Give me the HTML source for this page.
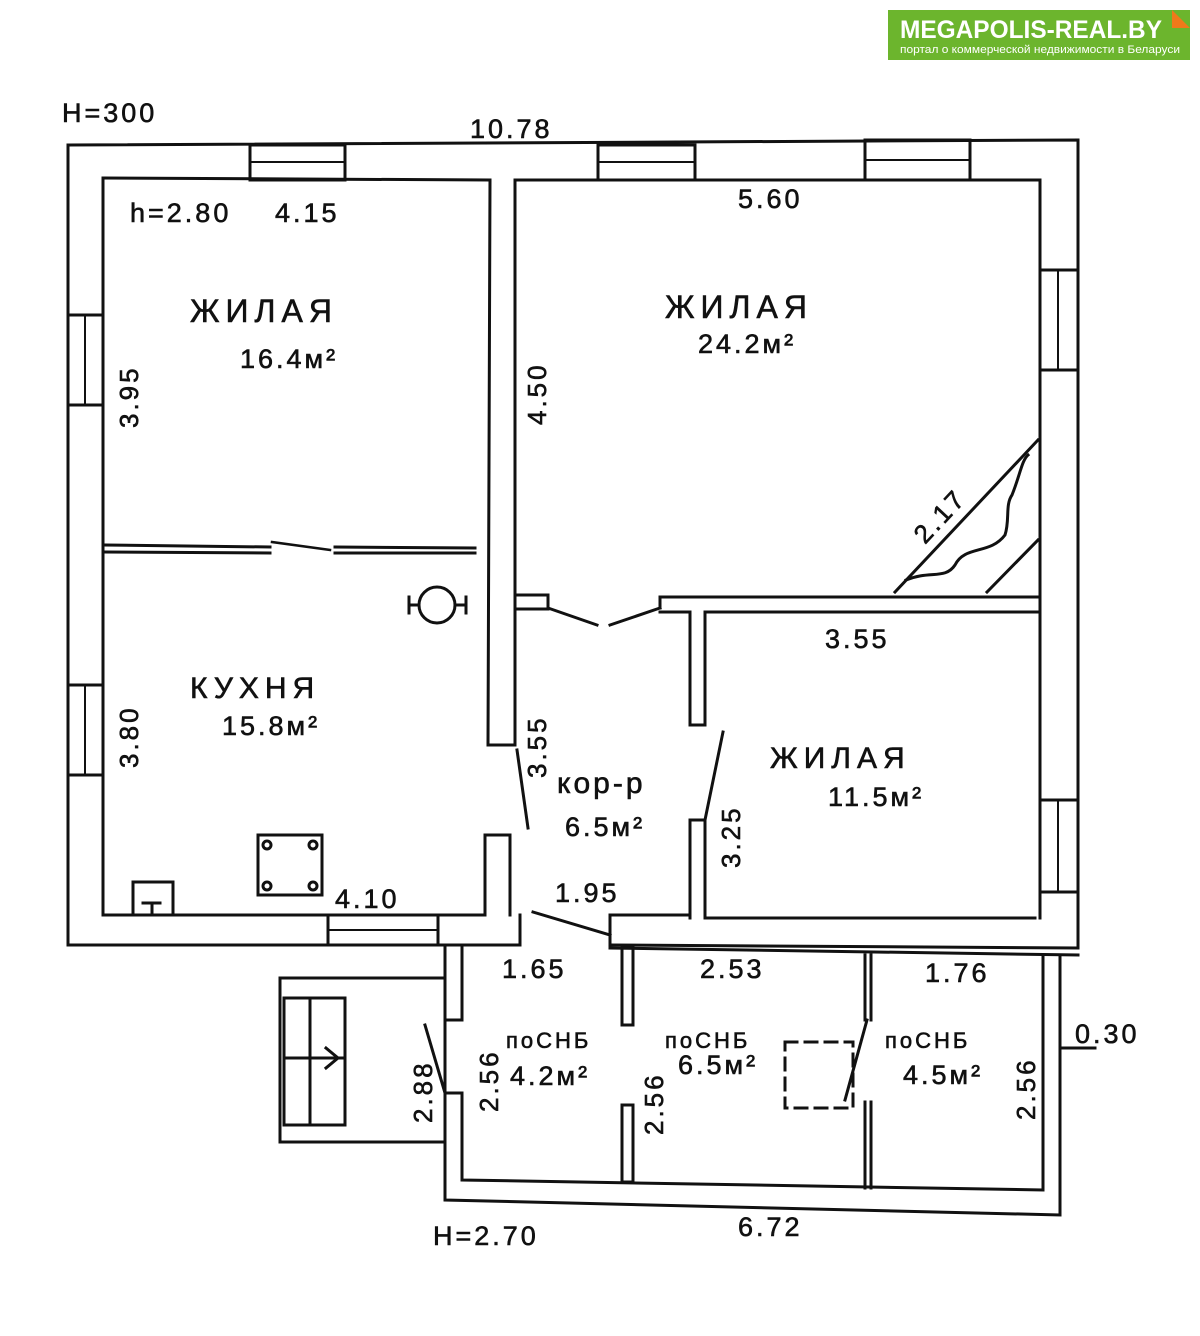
<!DOCTYPE html>
<html><head><meta charset="utf-8"><style>
html,body{margin:0;padding:0;background:#fff}
svg{display:block}
text{font-family:"Liberation Sans","DejaVu Sans",sans-serif;fill:#111;letter-spacing:3px}
.p text{stroke:#111;stroke-width:0.6}
</style></head><body>
<svg width="1200" height="1336" viewBox="0 0 1200 1336" xmlns="http://www.w3.org/2000/svg">
<rect width="1200" height="1336" fill="#fff"/>
<!-- logo -->
<rect x="888" y="10" width="302" height="50" fill="#6cb52d"/>
<polygon points="1172,10 1190,28 1172,28" fill="#f07a1a"/>
<text x="900" y="38" font-size="25" font-weight="bold" textLength="262" lengthAdjust="spacingAndGlyphs" style="fill:#fff;letter-spacing:0">MEGAPOLIS-REAL.BY</text>
<text x="900" y="53" font-size="11" textLength="280" lengthAdjust="spacingAndGlyphs" style="fill:#fff;letter-spacing:0">портал о коммерческой недвижимости в Беларуси</text>

<g stroke="#111" stroke-width="3" fill="none" stroke-linecap="square">
<polyline points="68,145 1078,140 1078,948 610,945"/>
<polyline points="68,145 68,945 520,945"/>
<polyline points="103,178 490,180 488,745 515,745 515,180 1040,180 1040,597"/>
<line x1="103" y1="178" x2="103" y2="915"/>
<polyline points="103,915 485,915 485,835 510,835 510,915"/>
<line x1="438" y1="915" x2="438" y2="945"/>
<line x1="520" y1="915" x2="520" y2="945"/>
<rect x="250" y="145" width="95" height="35"/><line x1="250" y1="162" x2="345" y2="162" stroke-width="2"/>
<rect x="598" y="145" width="97" height="35"/><line x1="598" y1="162" x2="695" y2="162" stroke-width="2"/>
<rect x="865" y="140" width="105" height="40"/><line x1="865" y1="160" x2="970" y2="160" stroke-width="2"/>
<rect x="68" y="315" width="35" height="90"/><line x1="85" y1="315" x2="85" y2="405" stroke-width="2"/>
<rect x="68" y="685" width="35" height="90"/><line x1="85" y1="685" x2="85" y2="775" stroke-width="2"/>
<rect x="1040" y="270" width="38" height="100"/><line x1="1058" y1="270" x2="1058" y2="370" stroke-width="2"/>
<rect x="1040" y="800" width="38" height="92"/><line x1="1058" y1="800" x2="1058" y2="892" stroke-width="2"/>
<rect x="328" y="915" width="110" height="30"/><line x1="328" y1="930" x2="438" y2="930" stroke-width="2"/>
<line x1="105" y1="545" x2="270" y2="547"/><line x1="105" y1="552" x2="270" y2="553"/>
<line x1="335" y1="547" x2="475" y2="548"/><line x1="335" y1="553" x2="475" y2="553"/>
<line x1="272" y1="542" x2="330" y2="550" stroke-width="2.5"/>
<rect x="515" y="595" width="33" height="14"/>
<line x1="548" y1="608" x2="597" y2="625"/><line x1="610" y1="625" x2="660" y2="608"/>
<polyline points="660,608 660,597 1040,597 1040,612 705,612 705,725 690,725 690,612 660,612"/>
<line x1="1040" y1="612" x2="1040" y2="918"/>
<polyline points="690,918 690,820 705,820 705,918 1035,918"/>
<line x1="723" y1="732" x2="705" y2="820"/>
<line x1="517" y1="750" x2="528" y2="828"/>
<line x1="533" y1="912" x2="610" y2="935"/>
<polyline points="610,945 610,915 690,915"/>
<line x1="895" y1="592" x2="1038" y2="440"/>
<line x1="987" y1="592" x2="1038" y2="540"/>
<path d="M906,580 C930,570 945,580 955,565 C965,545 990,555 1005,535 C1010,520 1005,505 1012,495 C1020,475 1022,460 1028,455"/>
<circle cx="437" cy="605" r="18"/>
<line x1="409" y1="605" x2="419" y2="605"/><line x1="409" y1="597" x2="409" y2="613"/>
<line x1="455" y1="605" x2="466" y2="605"/><line x1="466" y1="597" x2="466" y2="613"/>
<rect x="258" y="835" width="64" height="60"/>
<circle cx="267" cy="845" r="4"/><circle cx="313" cy="845" r="4"/><circle cx="267" cy="886" r="4"/><circle cx="313" cy="886" r="4"/>
<rect x="133" y="882" width="40" height="33"/>
<line x1="143" y1="903" x2="160" y2="903"/><line x1="152" y1="903" x2="152" y2="912"/>
<polyline points="445,945 445,1200 1060,1215 1060,955"/>
<line x1="610" y1="948" x2="1078" y2="955"/>
<polyline points="445,1020 462,1020 462,948"/>
<polyline points="445,1093 462,1093 462,1180 1043,1190 1043,955"/>
<line x1="425" y1="1025" x2="445" y2="1093"/>
<rect x="622" y="948" width="11" height="77"/>
<rect x="622" y="1105" width="11" height="77"/>
<line x1="865" y1="955" x2="865" y2="1020"/><line x1="871" y1="955" x2="871" y2="1020"/>
<line x1="865" y1="1102" x2="865" y2="1188"/><line x1="871" y1="1102" x2="871" y2="1188"/>
<line x1="867" y1="1020" x2="845" y2="1100"/>
<rect x="785" y="1042" width="68" height="66" stroke-dasharray="12,8"/>
<line x1="1060" y1="1048" x2="1095" y2="1048"/>
<polyline points="445,978 280,978 280,1142 445,1142"/>
<rect x="284" y="998" width="61" height="127"/>
<line x1="310" y1="998" x2="310" y2="1125"/><line x1="284" y1="1058" x2="345" y2="1058"/>
<polyline points="326,1048 338,1058 326,1068"/>
</g>

<g class="p" font-size="27">
<text x="62" y="122">H=300</text>
<text x="470" y="138">10.78</text>
<text x="130" y="222">h=2.80</text>
<text x="275" y="222">4.15</text>
<text x="738" y="208">5.60</text>
<text x="190" y="322" font-size="32" style="letter-spacing:6px">ЖИЛАЯ</text>
<text x="240" y="368">16.4м²</text>
<text x="665" y="318" font-size="32" style="letter-spacing:6px">ЖИЛАЯ</text>
<text x="698" y="353">24.2м²</text>
<text x="825" y="648">3.55</text>
<text x="190" y="698" font-size="30" style="letter-spacing:6px">КУХНЯ</text>
<text x="222" y="735">15.8м²</text>
<text x="770" y="768" font-size="30" style="letter-spacing:6px">ЖИЛАЯ</text>
<text x="828" y="806">11.5м²</text>
<text x="557" y="793" font-size="30">кор-р</text>
<text x="565" y="836">6.5м²</text>
<text x="555" y="902">1.95</text>
<text x="335" y="908">4.10</text>
<text x="502" y="978">1.65</text>
<text x="700" y="978">2.53</text>
<text x="925" y="982">1.76</text>
<text x="1075" y="1043">0.30</text>
<text x="506" y="1048" font-size="22">поСНБ</text>
<text x="510" y="1085">4.2м²</text>
<text x="665" y="1048" font-size="22">поСНБ</text>
<text x="678" y="1074">6.5м²</text>
<text x="885" y="1048" font-size="22">поСНБ</text>
<text x="903" y="1084">4.5м²</text>
<text x="433" y="1245">H=2.70</text>
<text x="738" y="1236">6.72</text>
</g>
<g class="p" font-size="26">
<text transform="translate(138,428) rotate(-90)">3.95</text>
<text transform="translate(546,425) rotate(-90)">4.50</text>
<text transform="translate(138,768) rotate(-90)">3.80</text>
<text transform="translate(546,778) rotate(-90)">3.55</text>
<text transform="translate(740,868) rotate(-90)">3.25</text>
<text transform="translate(432,1123) rotate(-90)">2.88</text>
<text transform="translate(498,1112) rotate(-90)">2.56</text>
<text transform="translate(663,1135) rotate(-90)">2.56</text>
<text transform="translate(1035,1120) rotate(-90)">2.56</text>
<text transform="translate(925,545) rotate(-47)">2.17</text>
</g>
</svg>
</body></html>
